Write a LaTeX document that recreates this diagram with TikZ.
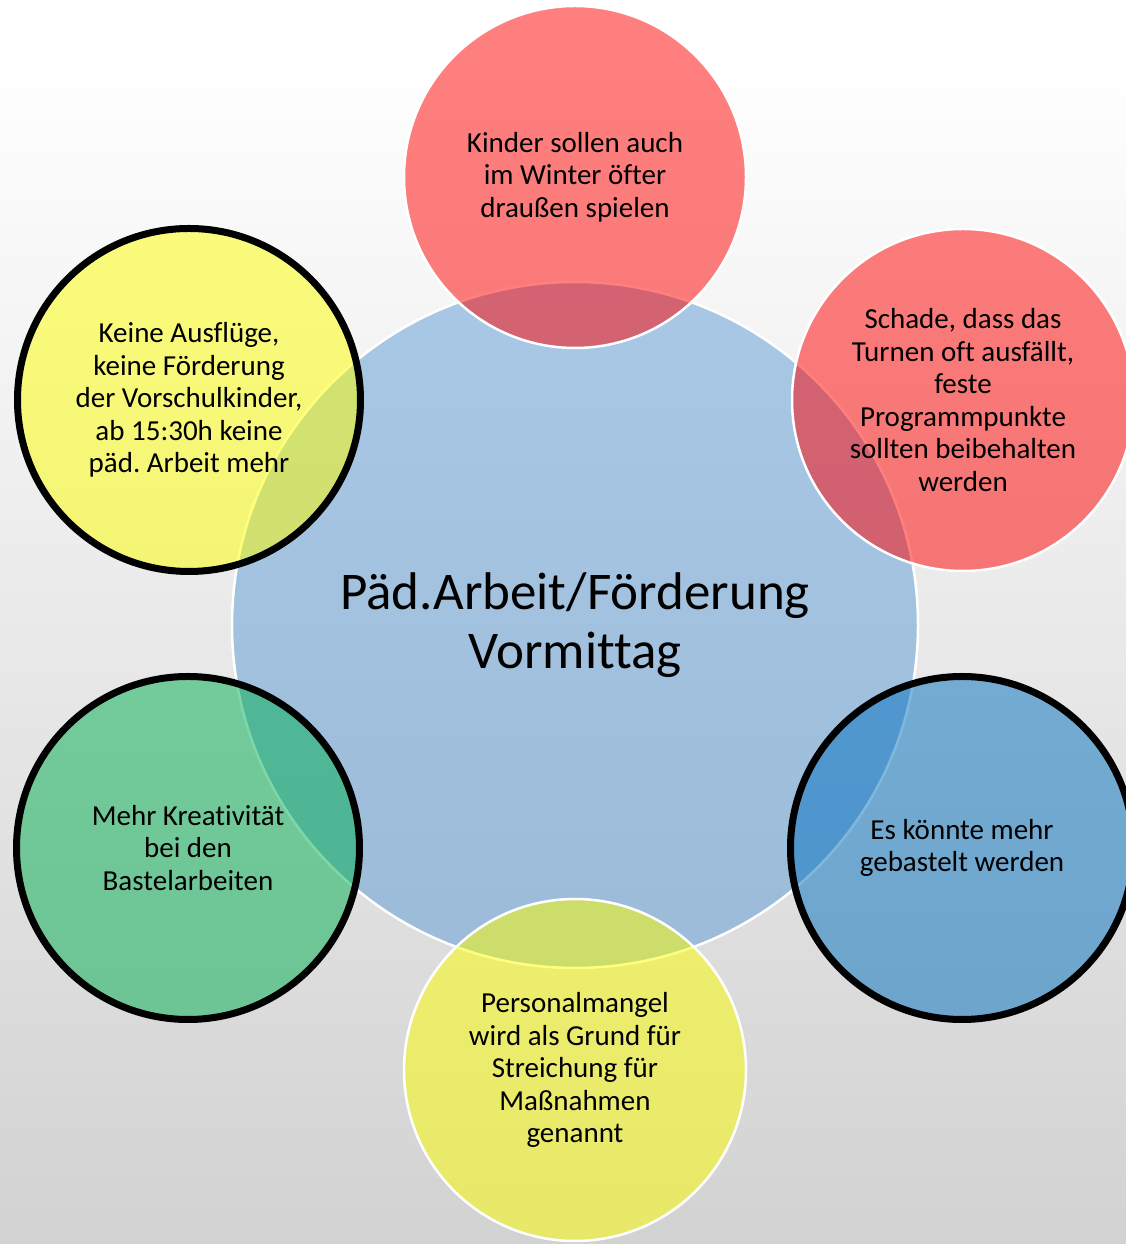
\documentclass[tikz,border=0pt]{standalone}
\usepackage{fontspec}
\setmainfont[Ligatures=NoCommon]{Carlito}
\frenchspacing
\definecolor{bgtop}{RGB}{254,254,254}
\definecolor{bgbot}{RGB}{210,210,210}
\definecolor{cblue}{RGB}{91,155,213}
\definecolor{cred}{RGB}{255,0,0}
\definecolor{cyellow}{RGB}{255,255,0}
\definecolor{cdblue}{RGB}{0,112,192}
\definecolor{cgreen}{RGB}{0,176,80}
\tikzset{
  bubble/.style={circle, inner sep=0pt, fill opacity=0.5, text opacity=1, draw opacity=1,
    align=center, text=black, font=\fontsize{29}{32.5}\selectfont},
  thinrim/.style={draw=white, line width=2.5pt, minimum size=342pt},
  thickrim/.style={draw=black, line width=7pt, minimum size=343pt},
}
\begin{document}
\begin{tikzpicture}[x=1pt,y=1pt]
\useasboundingbox (0,0) rectangle (1126,1244);
\clip (0,0) rectangle (1126,1244);
\fill[white] (0,1164) rectangle (1126,1244);
\shade[top color=bgtop, bottom color=bgbot] (0,0) rectangle (1126,1164);
\node[bubble, fill=cblue, draw=white, line width=2.5pt, minimum size=686pt,
  font=\fontsize{53}{58.5}\selectfont] (center) at (575,619) {Päd.Arbeit/Förderung\\Vormittag};
\node[bubble, thinrim, fill=cred] (top) at (575,1067) {Kinder sollen auch\\im Winter öfter\\draußen spielen};
\node[bubble, thinrim, fill=cred] (topright) at (963,844) {Schade, dass das\\Turnen oft ausfällt,\\feste\\Programmpunkte\\sollten beibehalten\\werden};
\node[bubble, thickrim, fill=cdblue] (botright) at (962,396) {Es könnte mehr\\gebastelt werden};
\node[bubble, thinrim, fill=cyellow] (bottom) at (575,174) {Personalmangel\\wird als Grund für\\Streichung für\\Maßnahmen\\genannt};
\node[bubble, thickrim, fill=cgreen] (botleft) at (188,396) {Mehr Kreativität\\bei den\\Bastelarbeiten};
\node[bubble, thickrim, fill=cyellow] (topleft) at (189,844) {Keine Ausflüge,\\keine Förderung\\der Vorschulkinder,\\ab 15:30h keine\\päd. Arbeit mehr};
\end{tikzpicture}
\end{document}
